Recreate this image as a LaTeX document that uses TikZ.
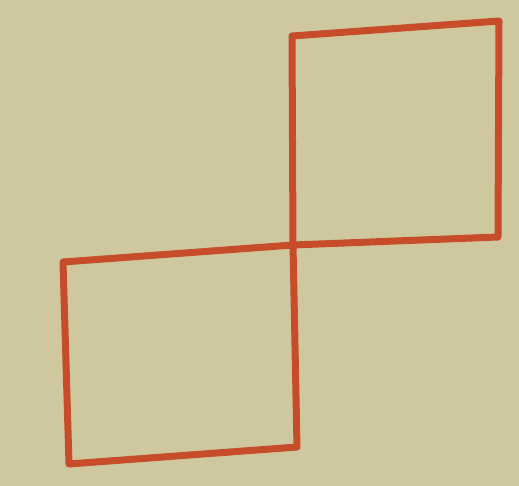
\documentclass[tikz,border=0pt]{standalone}
\definecolor{paper}{RGB}{207,200,159}
\definecolor{ink}{RGB}{198,76,42}
\begin{document}
\begin{tikzpicture}[x=1pt,y=-1pt,
  pen/.style={draw=ink,line width=7pt,line cap=round,line join=round}]
\fill[paper] (0,0) rectangle (519,486);
\useasboundingbox (0,0) rectangle (519,486);
% upper right square
\coordinate (a1) at (292,36);
\coordinate (a2) at (499,21);
\coordinate (a3) at (498,237);
\coordinate (c) at (293,245);
% lower left square
\coordinate (b1) at (63,262);
\coordinate (b3) at (297,447);
\coordinate (b4) at (69,464);
\draw[pen] (c) -- (a1) -- (a2) -- (a3) -- (c);
\draw[pen] (c) -- (b1) -- (b4) -- (b3) -- (c);
\end{tikzpicture}
\end{document}
